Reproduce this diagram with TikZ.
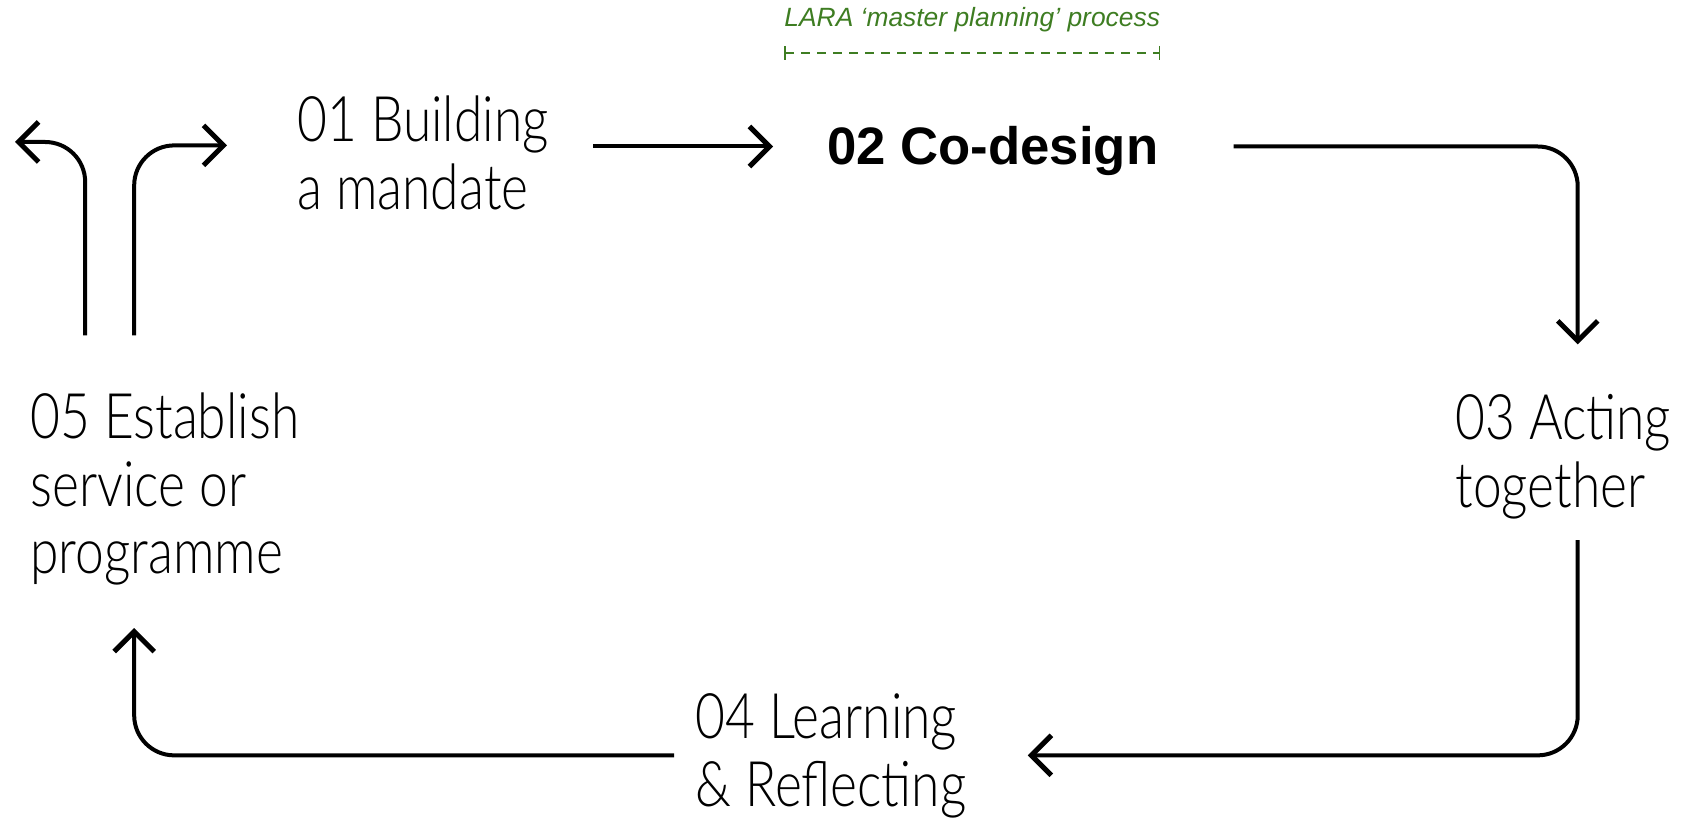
\documentclass[tikz,border=0pt]{standalone}
\usepackage{fontspec}
\setmainfont{Liberation Sans}
\newfontfamily\stagefont[FakeStretch=0.82]{Lato Light}
\usetikzlibrary{arrows.meta}
\definecolor{laragreen}{HTML}{3E7D22}

\begin{document}
\begin{tikzpicture}[x=0.5pt,y=-0.5pt,
	stage/.style={anchor=base west,inner sep=0,align=left,font=\stagefont\fontsize{31.4}{34}\selectfont},
	flow/.style={line width=2pt,rounded corners=20pt,-{Straight Barb[length=10pt,width=20pt,line width=2.5pt]}},
	bracket/.style={laragreen,line width=0.75pt,dash pattern=on 4.5pt off 3.5pt,{Bar[width=7pt]}-{Bar[width=7pt]}}]
	\useasboundingbox (0,0) rectangle (1683,818);
	%STAGES (placed by the baseline of their last line)
	\node[stage] (n01) at (297,210) {01 Building\\a mandate};
	\node[anchor=base west,inner sep=0,text height=18.5pt,text depth=0pt,font=\fontsize{26.35}{30}\selectfont\bfseries] (n02) at (827,165) {02 Co-design};
	\node[stage] (n03) at (1455,508) {03 Acting\\together};
	\node[stage] (n04) at (695,806) {04 Learning\\\& Reflecting};
	\node[stage] (n05) at (30,574) {05 Establish\\service or\\programme};
	%LARA
	\node[anchor=base west,inner sep=0,laragreen,font=\fontsize{13.2}{15}\selectfont\itshape] (lara) at (784,27) {LARA ‘master planning’ process};
	\draw[bracket] ([yshift=-10pt]lara.south west) -- ([yshift=-10pt]lara.south east);
	%CYCLE
	\draw[flow] ([xshift=22pt]n01.east |- n02.west) -- ([xshift=-27pt]n02.west);
	\draw[flow] ([xshift=37.5pt]n02.east) -| ([xshift=7.25pt,yshift=25pt]n03.north);
	\draw[flow] ([xshift=7.25pt,yshift=-10pt]n03.south) |- ([xshift=30.5pt]n04.east);
	\draw[flow] ([xshift=-10.5pt]n04.west) -| ([xshift=-15.35pt,yshift=-21pt]n05.south);
	%EXIT OR RESTART
	\coordinate (exit) at (15,142);
	\draw[flow] ([xshift=-39.85pt,yshift=28.25pt]n05.north) |- (exit);
	\draw[flow] ([xshift=-15.35pt,yshift=28.25pt]n05.north) |- ([xshift=-35pt,yshift=4pt]n01.west);
\end{tikzpicture}
\end{document}
